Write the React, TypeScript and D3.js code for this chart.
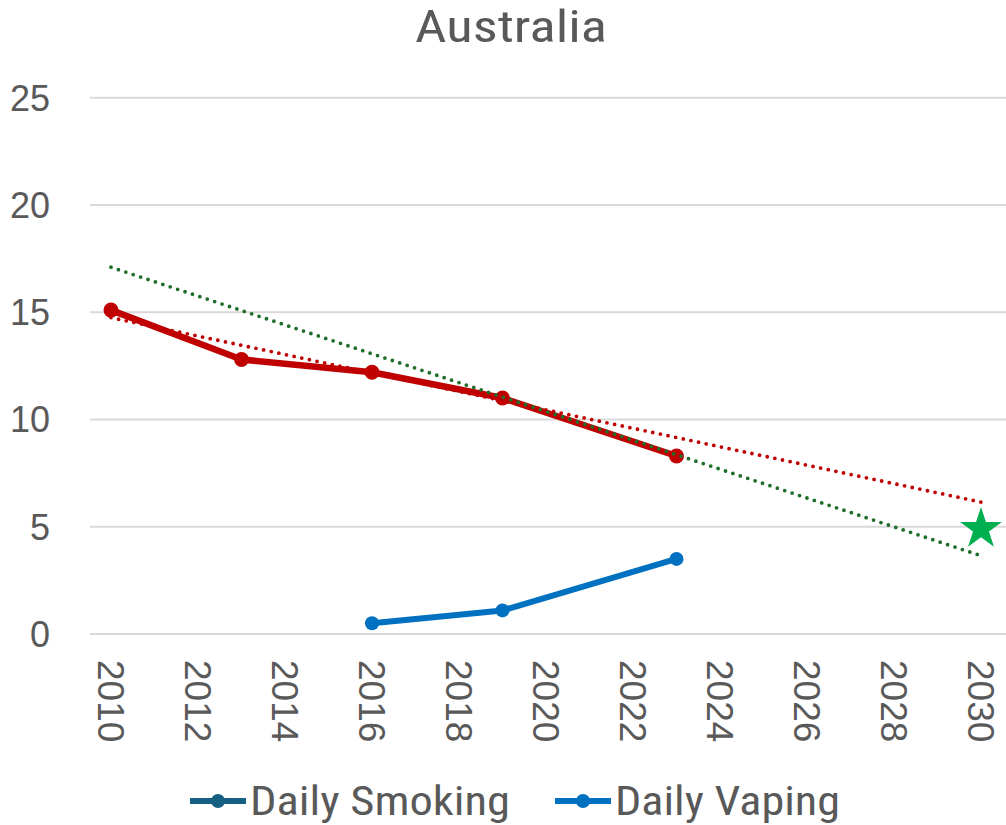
import React from "react";
import * as d3 from "d3";

const smokingYears = [2010, 2013, 2016, 2019, 2023];
const smokingValues = [15.1, 12.8, 12.2, 11.0, 8.3];
const vapingYears = [2016, 2019, 2023];
const vapingValues = [0.5, 1.1, 3.5];
const redTrendYears = [2010, 2030];
const redTrendValues = [14.75, 6.15];
const greenTrendYears = [2010, 2030];
const greenTrendValues = [17.1, 3.65];
const targetYear = [2030];
const targetValue = [4.9];
const yTicks = [0, 5, 10, 15, 20, 25];
const xTicks = [2010, 2012, 2014, 2016, 2018, 2020, 2022, 2024, 2026, 2028, 2030];
const seriesNames = ["Daily Smoking", "Daily Vaping"];

const W = 1006;
const H = 825;
const NARROW = "'Liberation Sans Narrow', 'Arial Narrow', 'Roboto Condensed', Roboto, sans-serif";
const SANS = "'Liberation Sans', Arial, sans-serif";
const TEXT = "#595959";

export default function App() {
  const x = d3.scaleLinear().domain([2010, 2030]).range([111, 981]);
  const y = d3.scaleLinear().domain([0, 25]).range([634, 97.75]);
  const line = d3
    .line<[number, number]>()
    .x((d) => x(d[0]))
    .y((d) => y(d[1]));
  const smoking = smokingYears.map((t, i) => [t, smokingValues[i]] as [number, number]);
  const vaping = vapingYears.map((t, i) => [t, vapingValues[i]] as [number, number]);
  const redTrend = redTrendYears.map((t, i) => [t, redTrendValues[i]] as [number, number]);
  const greenTrend = greenTrendYears.map((t, i) => [t, greenTrendValues[i]] as [number, number]);
  const star = d3.symbol(d3.symbolStar, 22 * 22 / 0.8908130915292852)();

  return (
    <svg
      width={W}
      height={H}
      style={{ position: "absolute", left: 0, top: 0, background: "#fff" }}
    >
      <rect x={0} y={0} width={W} height={H} fill="#fff" />
      <text
        x={415}
        y={42}
        textLength={192}
        lengthAdjust="spacingAndGlyphs"
        fontFamily={NARROW}
        fontSize={44}
        fill={TEXT}
      >
        Australia
      </text>
      {yTicks.map((t) => (
        <g key={"y" + t}>
          <line x1={90} x2={W} y1={y(t)} y2={y(t)} stroke="#d9d9d9" strokeWidth={2} />
          <text
            x={50}
            y={y(t)}
            dy="0.36em"
            textAnchor="end"
            fontFamily={SANS}
            fontSize={36}
            fill={TEXT}
          >
            {t}
          </text>
        </g>
      ))}
      {xTicks.map((t) => (
        <text
          key={"x" + t}
          transform={`translate(${x(t)},${660}) rotate(90)`}
          dy="0.36em"
          textAnchor="start"
          fontFamily={SANS}
          fontSize={37}
          fill={TEXT}
        >
          {t}
        </text>
      ))}
      <path d={line(smoking) || ""} fill="none" stroke="#C00000" strokeWidth={6.5} strokeLinejoin="round" />
      {smoking.map((d, i) => (
        <circle key={"s" + i} cx={x(d[0])} cy={y(d[1])} r={7.5} fill="#C00000" />
      ))}
      <path d={line(vaping) || ""} fill="none" stroke="#0070C0" strokeWidth={6} strokeLinejoin="round" />
      {vaping.map((d, i) => (
        <circle key={"v" + i} cx={x(d[0])} cy={y(d[1])} r={7} fill="#0070C0" />
      ))}
      <path
        d={line(redTrend) || ""}
        fill="none"
        stroke="#C00000"
        strokeWidth={3.8}
        strokeLinecap="round"
        strokeDasharray="0 7.8"
      />
      <path
        d={line(greenTrend) || ""}
        fill="none"
        stroke="#1E6E2A"
        strokeWidth={3.8}
        strokeLinecap="round"
        strokeDasharray="0 7.8"
      />
      <path
        d={star || ""}
        transform={`translate(${x(targetYear[0])},${y(targetValue[0])})`}
        fill="#00B050"
      />
      {/* legend */}
      <g>
        <line x1={190} x2={246} y1={801} y2={801} stroke="#156082" strokeWidth={6} />
        <circle cx={218} cy={801} r={7} fill="#156082" />
        <text
          x={250}
          y={815}
          textLength={260}
          lengthAdjust="spacingAndGlyphs"
          fontFamily={NARROW}
          fontSize={40}
          fill={TEXT}
        >
          {seriesNames[0]}
        </text>
        <line x1={555} x2={611} y1={801} y2={801} stroke="#0070C0" strokeWidth={6} />
        <circle cx={583} cy={801} r={7} fill="#0070C0" />
        <text
          x={615}
          y={815}
          textLength={225}
          lengthAdjust="spacingAndGlyphs"
          fontFamily={NARROW}
          fontSize={40}
          fill={TEXT}
        >
          {seriesNames[1]}
        </text>
      </g>
    </svg>
  );
}
